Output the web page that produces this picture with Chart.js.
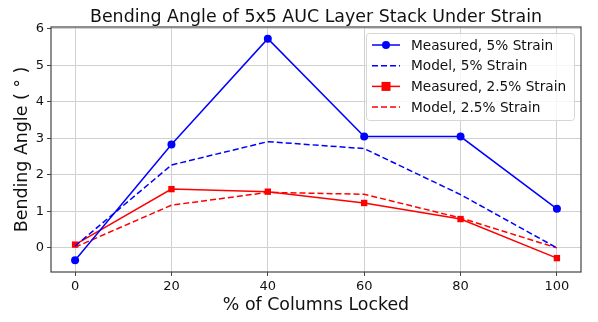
<!DOCTYPE html>
<html>
<head>
<meta charset="utf-8">
<script src="https://cdn.jsdelivr.net/npm/chart.js@4"></script>
<style>
  html, body { margin: 0; padding: 0; background: #fff; }
  #wrap { width: 598px; height: 322px; }
</style>
</head>
<body>
<div id="wrap"><canvas id="myChart" width="598" height="322"></canvas></div>
<script>
const columnsLocked = [0, 20, 40, 60, 80, 100];
const measured5 = [-0.34, 2.83, 5.73, 3.05, 3.05, 1.07];
const model5 = [0.05, 2.27, 2.91, 2.72, 1.46, 0.0];
const measured25 = [0.09, 1.61, 1.54, 1.23, 0.79, -0.28];
const model25 = [0.02, 1.17, 1.52, 1.47, 0.82, 0.0];
const xTicks = [0, 20, 40, 60, 80, 100];
const yTicks = [0, 1, 2, 3, 4, 5, 6];
const chartTitle = 'Bending Angle of 5x5 AUC Layer Stack Under Strain';

const FONT = "'DejaVu Sans', sans-serif";

function pts(ys) {
  return columnsLocked.map((x, i) => ({ x: x, y: ys[i] }));
}

// frame on all four sides + title centred over the plot area
const framePlugin = {
  id: 'frame',
  afterDatasetsDraw(chart) {
    const a = chart.chartArea, ctx = chart.ctx;
    ctx.save();
    ctx.strokeStyle = '#444';
    ctx.lineWidth = 1.2;
    ctx.strokeRect(a.left, a.top, a.right - a.left, a.bottom - a.top);
    ctx.fillStyle = '#111';
    ctx.font = '17.4px ' + FONT;
    ctx.textAlign = 'center';
    ctx.textBaseline = 'alphabetic';
    ctx.fillText(chartTitle, (a.left + a.right) / 2, 22);
    ctx.restore();
  }
};

// legend drawn inside the plot, top right
const insideLegend = {
  id: 'insideLegend',
  afterDraw(chart) {
    const a = chart.chartArea, ctx = chart.ctx;
    const w = 208, h = 87;
    const x0 = a.right - 7 - w, y0 = a.top + 6;
    ctx.save();
    ctx.fillStyle = 'rgba(255,255,255,0.8)';
    ctx.strokeStyle = '#d6d6d6';
    ctx.lineWidth = 1;
    ctx.beginPath();
    ctx.roundRect(x0 + 0.5, y0 + 0.5, w, h, 3);
    ctx.fill();
    ctx.stroke();
    ctx.font = '13.7px ' + FONT;
    ctx.textBaseline = 'middle';
    chart.data.datasets.forEach((ds, i) => {
      const cy = y0 + 12 + i * 20.7;
      const lx = x0 + 6;
      ctx.strokeStyle = ds.borderColor;
      ctx.lineWidth = ds.borderWidth;
      ctx.setLineDash(ds.borderDash || []);
      ctx.beginPath();
      ctx.moveTo(lx, cy);
      ctx.lineTo(lx + 28, cy);
      ctx.stroke();
      ctx.setLineDash([]);
      if (ds.pointRadius > 0) {
        ctx.fillStyle = ds.borderColor;
        const r = ds.pointRadius;
        if (ds.pointStyle === 'rect') {
          ctx.fillRect(lx + 14 - r, cy - r, 2 * r, 2 * r);
        } else {
          ctx.beginPath();
          ctx.arc(lx + 14, cy, r, 0, Math.PI * 2);
          ctx.fill();
        }
      }
      ctx.fillStyle = '#111';
      ctx.fillText(ds.label, lx + 39, cy + 1);
    });
    ctx.restore();
  }
};

new Chart(document.getElementById('myChart').getContext('2d'), {
  type: 'line',
  data: {
    datasets: [
      {
        label: 'Measured, 5% Strain',
        data: pts(measured5),
        borderColor: '#0000ff',
        backgroundColor: '#0000ff',
        borderWidth: 1.5,
        pointStyle: 'circle',
        pointRadius: 4,
        pointBorderWidth: 0
      },
      {
        label: 'Model, 5% Strain',
        data: pts(model5),
        borderColor: '#0000ff',
        borderWidth: 1.5,
        borderDash: [6, 3],
        pointRadius: 0
      },
      {
        label: 'Measured, 2.5% Strain',
        data: pts(measured25),
        borderColor: '#ff0000',
        backgroundColor: '#ff0000',
        borderWidth: 1.5,
        pointStyle: 'rect',
        pointRadius: 4.5,
        pointBorderWidth: 0
      },
      {
        label: 'Model, 2.5% Strain',
        data: pts(model25),
        borderColor: '#ff0000',
        borderWidth: 1.5,
        borderDash: [6, 3],
        pointRadius: 0
      }
    ]
  },
  options: {
    responsive: false,
    animation: false,
    layout: { padding: { left: 0, right: 17, top: 27, bottom: 0 } },
    plugins: {
      legend: { display: false },
      tooltip: { enabled: false },
      title: { display: false }
    },
    scales: {
      x: {
        type: 'linear',
        min: -5,
        max: 105,
        afterBuildTicks: s => { s.ticks = xTicks.map(v => ({ value: v })); },
        afterFit: s => { s.height = 50; },
        grid: { color: '#d0d0d0', tickColor: '#444', tickLength: 4 },
        border: { display: false },
        ticks: { color: '#111', font: { family: FONT, size: 13 }, padding: 3, maxRotation: 0 },
        title: {
          display: true,
          text: '% of Columns Locked',
          color: '#111',
          font: { family: FONT, size: 17.4 },
          padding: { top: 0, bottom: 6 }
        }
      },
      y: {
        type: 'linear',
        min: -0.66,
        max: 6.05,
        afterBuildTicks: s => { s.ticks = yTicks.map(v => ({ value: v })); },
        afterFit: s => { s.width = 51; },
        grid: { color: '#d0d0d0', tickColor: '#444', tickLength: 4 },
        border: { display: false },
        ticks: { color: '#111', font: { family: FONT, size: 13 }, padding: 3 },
        title: {
          display: true,
          text: 'Bending Angle ( ° )',
          color: '#111',
          font: { family: FONT, size: 17.4 },
          padding: { top: 12, bottom: 0 }
        }
      }
    }
  },
  plugins: [framePlugin, insideLegend]
});
</script>
</body>
</html>
